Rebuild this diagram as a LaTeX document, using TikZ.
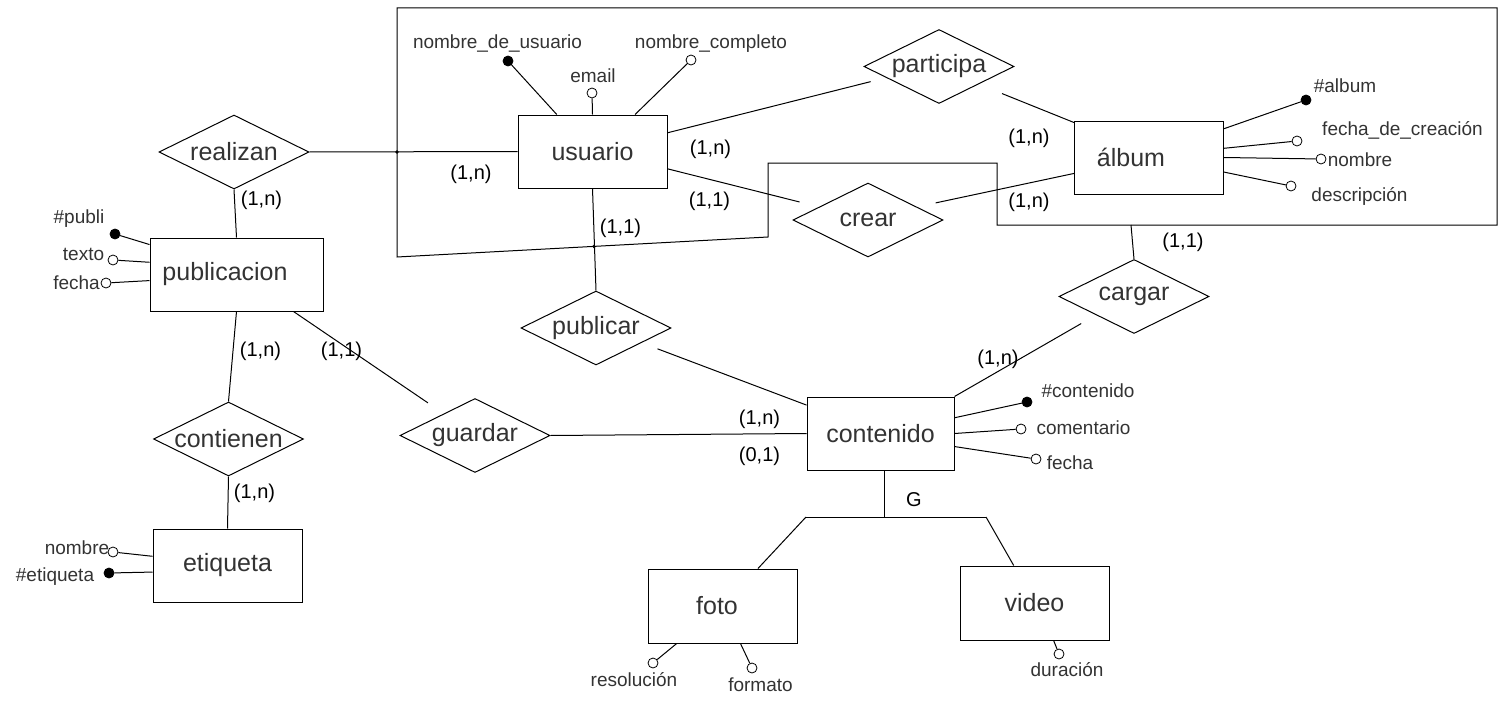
\documentclass[tikz,border=0pt]{standalone}
\usepackage{fontspec}
\setmainfont{Liberation Sans}
\usetikzlibrary{shapes.geometric}
\definecolor{ink}{HTML}{333333}

\begin{document}
\begin{tikzpicture}[x=1pt,y=-1pt,line width=1pt,
    entity/.style={draw, minimum width=149pt, minimum height=73pt, inner sep=0pt,
        text=ink, font=\fontsize{25}{30}\selectfont},
    rel/.style={diamond, draw, minimum width=150pt, minimum height=74pt, inner sep=0pt,
        label={[text=ink, font=\fontsize{25}{30}\selectfont]center:#1}},
    attr/.style={circle, draw, fill=white, minimum size=10pt, inner sep=0pt, line width=0.8pt},
    key/.style={attr, fill=black},
    atxt/.style={text=ink, inner sep=0pt, font=\fontsize{19}{22}\selectfont},
    card/.style={inner sep=0pt, font=\fontsize{20}{24}\selectfont}]

\useasboundingbox (0,0) rectangle (1508,701);

% aggregation round usuario - participa - album
\draw (397,8) -- (1497,8) -- (1497,225) -- (997,225) -- (997,163)
    -- (768,163) -- (768,237) -- (397,257) -- cycle;

% entities
\node[entity] (usuario) at (592.5,151.5) {usuario};
\node[entity] (album) at (1149,157.5) {álbum\hspace*{36pt}};
\node[entity, minimum width=173pt] (publicacion) at (236.5,274.5) {publicacion\hspace*{23pt}};
\node[entity] (etiqueta) at (227.5,565.5) {etiqueta};
\node[entity, minimum width=147pt] (contenido) at (880.5,433.5) {contenido};
\node[entity, minimum height=74pt] (foto) at (723,606) {foto\hspace*{12pt}};
\node[entity, minimum height=74pt] (video) at (1034.5,603) {video};

% relationships
\node[rel=realizan] (realizan) at (234,152) {};
\node[rel=participa] (participa) at (939,66.5) {};
\node[rel=crear] (crear) at (868,220) {};
\node[rel=publicar] (publicar) at (596,328) {};
\node[rel=guardar] (guardar) at (475,435.5) {};
\node[rel=cargar] (cargar) at (1134,296.5) {};
\node[rel=contienen] (contienen) at (228.5,439) {};

% connectors
\coordinate (aggL) at (397,152);
\coordinate (aggB) at (594,246.5);
\coordinate (aggC) at (1131,225);
\draw (realizan.east) -- (usuario.west);
\fill (aggL) circle (1.8);
\draw (realizan.south) -- (publicacion.north);
\draw[shorten >=16pt] (usuario.14) -- (participa.192);
\draw[shorten <=25pt] (participa.-24) -- (album.155);
\draw[shorten >=20pt] (usuario.-13) -- (crear.165);
\draw[shorten <=19pt] (crear.15) -- (album.192);
\draw (usuario.south) -- (publicar.north);
\fill (aggB) circle (1.8);
\draw[shorten <=17pt] (publicar.-18) -- (contenido.159);
\draw[shorten >=19pt] (publicacion.-33) -- (guardar.145);
\draw (guardar.east) -- (contenido.west);
\draw (publicacion.south) -- (contienen.north);
\draw (contienen.south) -- (etiqueta.north);
\draw (aggC) -- (cargar.north);
\draw[shorten <=17pt] (cargar.206) -- (contenido.north east);

% generalization
\coordinate (gen) at (884,517);
\coordinate (genL) at (806,517);
\coordinate (genR) at (986,517);
\draw (contenido.south -| gen) -- (gen);
\draw (genL) -- (genR);
\draw (genL) -- (foto.47);
\draw (genR) -- (video.119);
\node[card] (G) at (914,500) {G};

% cardinalities
\node[card] (c1) at (471,174) {(1,n)};
\node[card] (c2) at (261.5,200) {(1,n)};
\node[card] (c3) at (710.5,149) {(1,n)};
\node[card] (c4) at (1029,138) {(1,n)};
\node[card] (c5) at (709.5,201) {(1,1)};
\node[card] (c6) at (1029,202) {(1,n)};
\node[card] (c7) at (620.5,228) {(1,1)};
\node[card] (c8) at (1183,242) {(1,1)};
\node[card] (c9) at (998,359) {(1,n)};
\node[card] (c10) at (260.5,351) {(1,n)};
\node[card] (c11) at (341.5,351) {(1,1)};
\node[card] (c12) at (254.5,493) {(1,n)};
\node[card] (c13) at (759.5,419) {(1,n)};
\node[card] (c14) at (759.5,456) {(0,1)};

% usuario attributes
\node[key] (uNom) at (508,61) {};
\node[attr] (uMail) at (592,93) {};
\node[attr] (uComp) at (691,60) {};
\draw (usuario.134) -- (uNom);
\draw (usuario.north) -- (uMail);
\draw (usuario.41) -- (uComp);
\node[atxt] (uNomT) at (497.5,44) {nombre\_de\_usuario};
\node[atxt] (uMailT) at (593,76) {email};
\node[atxt] (uCompT) at (711,44) {nombre\_completo};

% album attributes
\node[key] (aNum) at (1306,100) {};
\node[attr] (aFecha) at (1297,141) {};
\node[attr] (aNom) at (1321,159) {};
\node[attr] (aDesc) at (1291,186) {};
\draw (album.21) -- (aNum);
\draw (album.7) -- (aFecha);
\draw (album.0) -- (aNom);
\draw (album.-11) -- (aDesc);
\node[atxt] (aNumT) at (1345,86) {\#album};
\node[atxt] (aFechaT) at (1402.5,130) {fecha\_de\_creación};
\node[atxt] (aNomT) at (1360,160) {nombre};
\node[atxt] (aDescT) at (1359.5,196) {descripción};

% publicacion attributes
\node[key] (pNum) at (115,234) {};
\node[attr] (pTexto) at (113,260) {};
\node[attr] (pFecha) at (106,283) {};
\draw (publicacion.161) -- (pNum);
\draw (publicacion.172) -- (pTexto);
\draw (publicacion.184) -- (pFecha);
\node[atxt] (pNumT) at (79,219) {\#publi};
\node[atxt] (pTextoT) at (83.5,254) {texto};
\node[atxt] (pFechaT) at (76.5,283) {fecha};

% etiqueta attributes
\node[attr] (eNom) at (113,552) {};
\node[key] (eNum) at (109,573) {};
\draw (etiqueta.173) -- (eNom);
\draw (etiqueta.185) -- (eNum);
\node[atxt] (eNomT) at (77,548) {nombre};
\node[atxt] (eNumT) at (55,577) {\#etiqueta};

% contenido attributes
\node[key] (cNum) at (1027,402) {};
\node[attr] (cCom) at (1021,429) {};
\node[attr] (cFecha) at (1036,459) {};
\draw (contenido.12) -- (cNum);
\draw (contenido.0) -- (cCom);
\draw (contenido.-10) -- (cFecha);
\node[atxt] (cNumT) at (1088,391) {\#contenido};
\node[atxt] (cComT) at (1083.5,428) {comentario};
\node[atxt] (cFechaT) at (1070,463) {fecha};

% foto and video attributes
\node[attr] (fRes) at (653,663) {};
\node[attr] (fFor) at (752,668) {};
\node[attr] (vDur) at (1059,654) {};
\draw (foto.-141) -- (fRes);
\draw (foto.-65) -- (fFor);
\draw (video.-63) -- (vDur);
\node[atxt] (fResT) at (634,680) {resolución};
\node[atxt] (fForT) at (760.5,685) {formato};
\node[atxt] (vDurT) at (1067,670) {duración};

\end{tikzpicture}
\end{document}
